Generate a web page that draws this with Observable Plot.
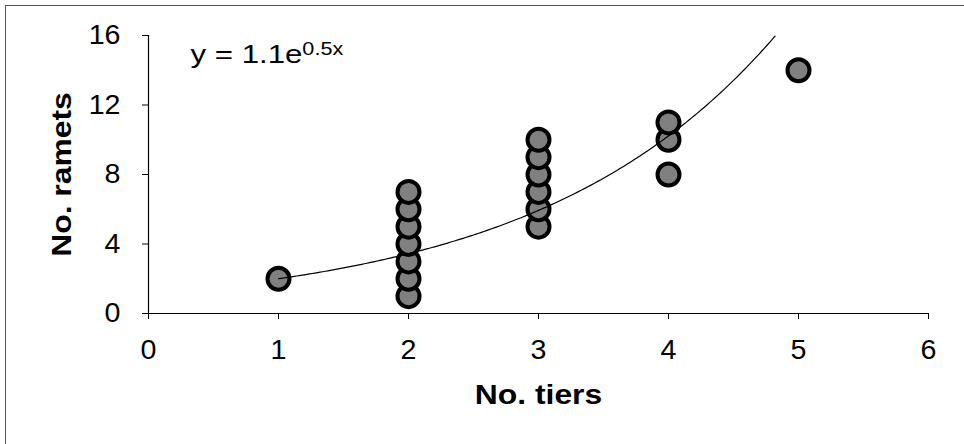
<!DOCTYPE html>
<html><head><meta charset="utf-8">
<script src="https://cdn.jsdelivr.net/npm/d3@7"></script>
<script src="https://cdn.jsdelivr.net/npm/@observablehq/plot@0.6"></script>
<style>
html,body{margin:0;padding:0;background:#fff;overflow:hidden;width:964px;height:444px;}
#chart{position:absolute;left:0;top:0;}
#frame{position:absolute;left:5px;top:5px;width:2000px;height:2000px;border-top:1px solid #555;border-left:1px solid #555;pointer-events:none;}
</style></head><body>
<div id="chart"></div><div id="frame"></div>
<script>
// Data
const tiers  = [1, 2, 2, 2, 2, 2, 2, 2, 3, 3, 3, 3, 3, 3, 4, 4, 4, 5];
const ramets = [2, 1, 2, 3, 4, 5, 6, 7, 5, 6, 7, 8, 9, 10, 8, 10, 11, 14];
const xTicks = [0, 1, 2, 3, 4, 5, 6];
const yTicks = [0, 4, 8, 12, 16];
const xTitle = "No. tiers";
const yTitle = "No. ramets";
const equationBase = "y = 1.1e";
const equationExp = "0.5x";
// exponential trendline (as drawn), y = a·e^(b·x), from x=1 to where it leaves the plot
const trendA = 1.16, trendB = 0.544;
const trendStart = 1, trendEnd = 4.82;

const points = tiers.map((t, i) => ({tiers: t, ramets: ramets[i]}));
const curve = d3.range(trendStart, trendEnd, 0.02).concat([trendEnd])
  .map(x => ({x, y: trendA * Math.exp(trendB * x)}));

const font = "'Liberation Sans', Arial, sans-serif";
const chart = Plot.plot({
  width: 964, height: 444,
  marginLeft: 148, marginRight: 36, marginTop: 35, marginBottom: 131,
  style: {fontFamily: font, fontSize: "27px", color: "#000", background: "transparent"},
  x: {domain: [0, 6]},
  y: {domain: [0, 16]},
  marks: [
    Plot.axisX({ticks: xTicks, tickSize: 6, tickPadding: 20, label: null, fontSize: 27, tickFormat: d => String(d), className: "tk"}),
    Plot.axisY({ticks: yTicks, tickSize: 6, tickPadding: 22, label: null, fontSize: 27, tickFormat: d => String(d), className: "tk"}),
    Plot.ruleY([0], {stroke: "#000", strokeWidth: 1.2}),
    Plot.ruleX([0], {stroke: "#000", strokeWidth: 1.2}),
    Plot.dot(points, {x: "tiers", y: "ramets", r: 11, fill: "#808080", stroke: "#000", strokeWidth: 4}),
    Plot.line(curve, {x: "x", y: "y", stroke: "#000", strokeWidth: 1.2}),
    Plot.text([xTitle], {text: d => d, frameAnchor: "bottom", dy: 82, textAnchor: "middle", lineAnchor: "middle", fontWeight: "bold", fontSize: 27, className: "ttl"}),
    Plot.text([yTitle], {text: d => d, frameAnchor: "left", dx: -86, rotate: -90, textAnchor: "middle", lineAnchor: "middle", fontWeight: "bold", fontSize: 27, className: "ttl"}),
    Plot.text([equationBase], {text: d => d, frameAnchor: "top-left", dx: 42, dy: 19, textAnchor: "start", lineAnchor: "middle", fontSize: 26, className: "eq"})
  ]
});
document.getElementById("chart").appendChild(chart);
// add the superscript exponent to the equation label
const eq = chart.querySelector(".eq text");
if (eq) {
  const ts = document.createElementNS("http://www.w3.org/2000/svg", "tspan");
  ts.setAttribute("dy", "-0.42em");
  ts.setAttribute("font-size", "18");
  ts.textContent = equationExp;
  eq.appendChild(ts);
}
// the reference's lettering is horizontally wide; stretch glyphs to match
function stretch(sel, f) {
  chart.querySelectorAll(sel).forEach(t => {
    const w = t.getComputedTextLength();
    if (w > 0) { t.setAttribute("textLength", w * f); t.setAttribute("lengthAdjust", "spacingAndGlyphs"); }
  });
}
stretch(".ttl text", 1.18);
stretch(".eq text", 1.2);
stretch(".tk text", 1.06);
</script>
</body></html>
